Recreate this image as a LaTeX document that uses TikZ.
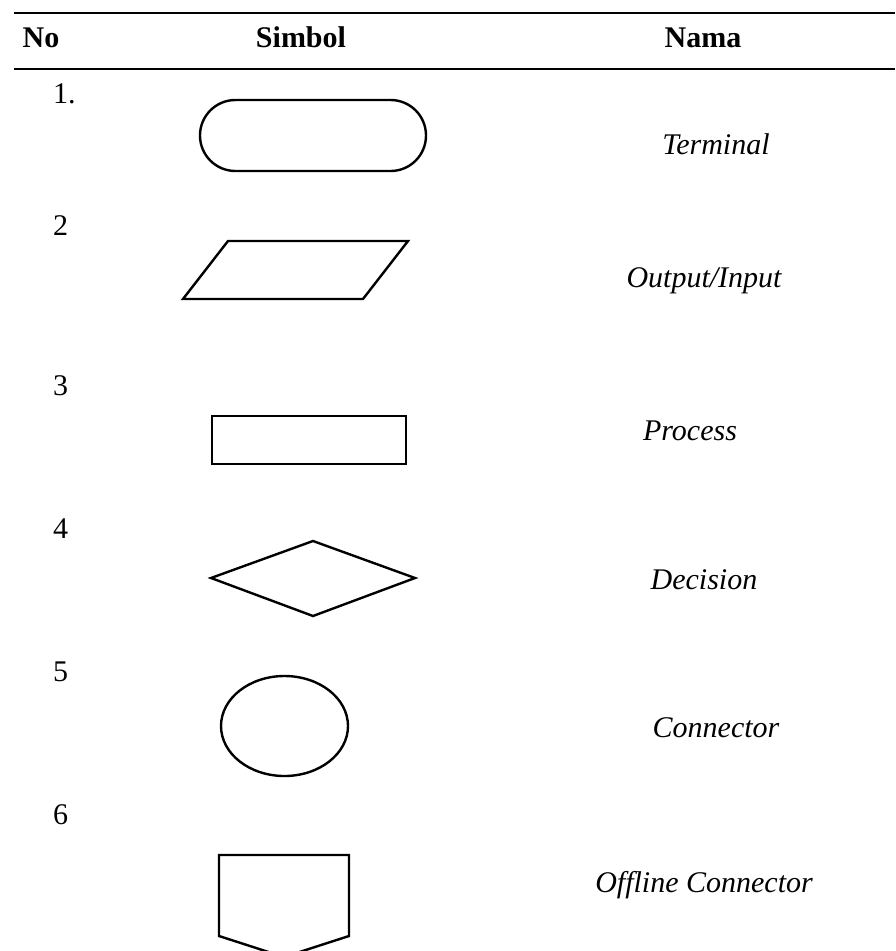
\documentclass[tikz,border=0pt]{standalone}
\usepackage{fontspec}
\setmainfont{Liberation Serif}
\begin{document}
\begin{tikzpicture}[x=1pt,y=-1pt,
  rule/.style={line width=2.8pt},
  shp/.style={line width=2.4pt, line join=miter},
  hdr/.style={anchor=base, font=\fontsize{30}{36}\selectfont\bfseries, inner sep=0pt},
  num/.style={anchor=base west, font=\fontsize{30}{36}\selectfont, inner sep=0pt},
  nm/.style={anchor=base, font=\fontsize{30}{36}\selectfont\itshape, inner sep=0pt}]
\useasboundingbox (0,0) rectangle (895,951);
\clip (0,0) rectangle (895,951);
% rules
\coordinate (r1a) at (14,13); \coordinate (r1b) at (895,13);
\coordinate (r2a) at (14,69); \coordinate (r2b) at (895,69);
\draw[rule] (r1a) -- (r1b);
\draw[rule] (r2a) -- (r2b);
% header
\node[hdr] (hno) at (41,47) {No};
\node[hdr] (hsim) at (301,47) {Simbol};
\node[hdr] (hnama) at (703,47) {Nama};
% numbers
\node[num] (n1) at (53,103) {1.};
\node[num] (n2) at (53,235) {2};
\node[num] (n3) at (53,395) {3};
\node[num] (n4) at (53,538) {4};
\node[num] (n5) at (53,681) {5};
\node[num] (n6) at (53,824) {6};
% names
\node[nm] (t1) at (716,154) {Terminal};
\node[nm] (t2) at (704,287) {Output/Input};
\node[nm] (t3) at (690,440) {Process};
\node[nm] (t4) at (704,589) {Decision};
\node[nm] (t5) at (716,737) {Connector};
\node[nm] (t6) at (704,892) {Offline Connector};
% terminal
\draw[shp, rounded corners=35.4pt] (200,100) rectangle (426,171);
% parallelogram
\draw[shp] (228,241) -- (408,241) -- (363,299) -- (183,299) -- cycle;
% process
\draw[shp] (212,416) rectangle (406,464);
% decision
\draw[shp] (313,541) -- (415,578) -- (313,616) -- (211,578) -- cycle;
% connector
\draw[shp] (284.5,726) ellipse[x radius=63.5, y radius=50];
% offline connector
\draw[shp] (219,855) -- (349,855) -- (349,936) -- (284,957) -- (219,936) -- cycle;
\end{tikzpicture}
\end{document}
